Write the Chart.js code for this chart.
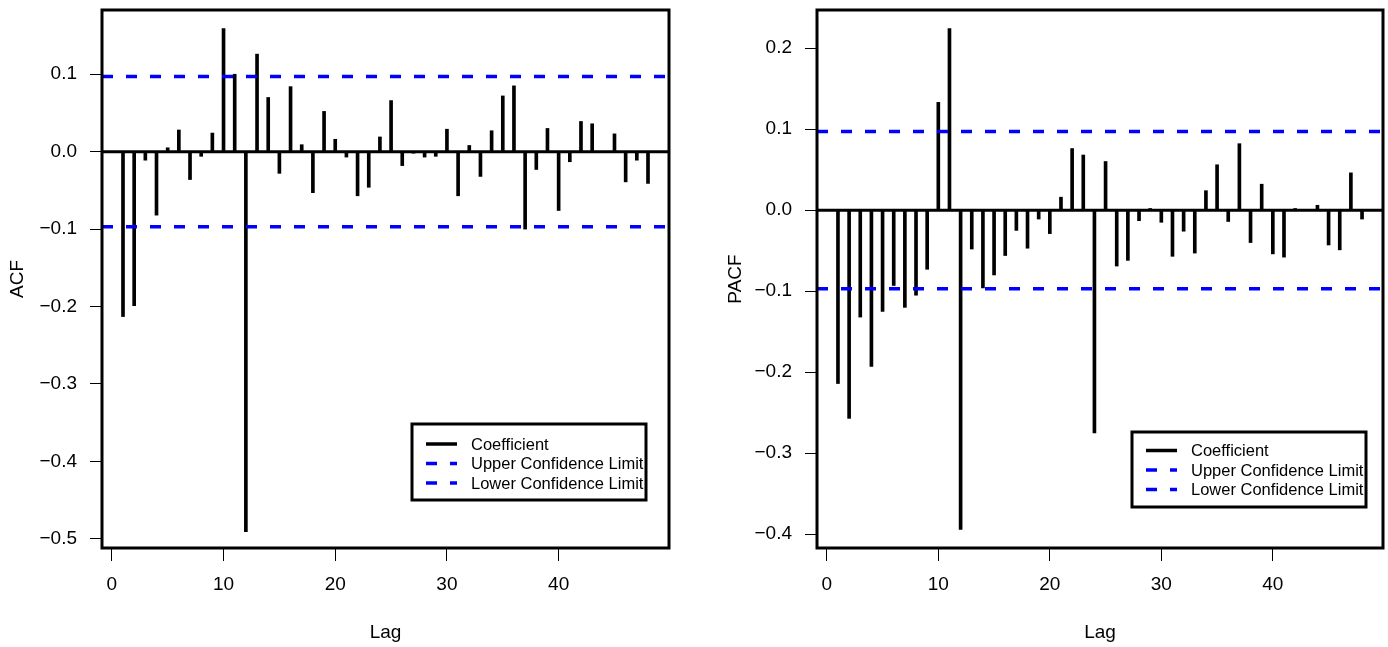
<!DOCTYPE html>
<html>
<head>
<meta charset="utf-8">
<title>ACF / PACF</title>
<script src="https://cdn.jsdelivr.net/npm/chart.js@4.4.1/dist/chart.umd.min.js"></script>
<style>
  body { margin: 0; background: #fff; }
  #wrap { position: relative; width: 1388px; height: 647px; }
  canvas { position: absolute; top: 0; }
  #acfChart { left: 0; }
  #pacfChart { left: 694px; }
</style>
</head>
<body>
<div id="wrap">
  <canvas id="acfChart" width="694" height="647"></canvas>
  <canvas id="pacfChart" width="694" height="647"></canvas>
</div>
<script>
// 데이터 (lag 1..48)
const lags = Array.from({ length: 48 }, (_, i) => i + 1);

const acfValues = [-0.213, -0.199, -0.011, -0.082, 0.005, 0.028, -0.036, -0.006, 0.024, 0.159,
  0.100, -0.491, 0.126, 0.070, -0.028, 0.084, 0.009, -0.053, 0.052, 0.016,
  -0.007, -0.057, -0.046, 0.019, 0.066, -0.018, -0.002, -0.007, -0.006, 0.029,
  -0.057, 0.008, -0.032, 0.027, 0.072, 0.085, -0.100, -0.023, 0.030, -0.076,
  -0.013, 0.039, 0.036, -0.001, 0.023, -0.039, -0.011, -0.041];

const pacfValues = [-0.214, -0.257, -0.132, -0.193, -0.125, -0.093, -0.120, -0.105, -0.073, 0.133,
  0.224, -0.394, -0.048, -0.096, -0.080, -0.056, -0.025, -0.047, -0.011, -0.029,
  0.016, 0.076, 0.068, -0.275, 0.060, -0.069, -0.062, -0.013, 0.002, -0.015,
  -0.057, -0.026, -0.053, 0.024, 0.056, -0.014, 0.082, -0.040, 0.032, -0.054,
  -0.058, 0.002, 0.001, 0.006, -0.043, -0.049, 0.046, -0.011];

const upperLimit = 0.097;
const lowerLimit = -0.097;

// 축 눈금
const xTicks = [0, 10, 20, 30, 40];
const acfYTicks = [-0.5, -0.4, -0.3, -0.2, -0.1, 0.0, 0.1];
const pacfYTicks = [-0.4, -0.3, -0.2, -0.1, 0.0, 0.1, 0.2];

const xMin = -0.88, xMax = 49.88;

Chart.defaults.font.family = "'Liberation Sans', Arial, sans-serif";
Chart.defaults.color = '#000';

// 플롯 테두리 + 범례 박스 그리기
const boxPlugin = {
  id: 'boxLegend',
  afterDraw(chart, args, opts) {
    const ctx = chart.ctx;
    const a = chart.chartArea;
    ctx.save();
    ctx.strokeStyle = '#000';
    ctx.lineWidth = 3;
    ctx.strokeRect(a.left, a.top, a.right - a.left, a.bottom - a.top);

    // legend
    ctx.fillStyle = '#fff';
    ctx.fillRect(opts.x, opts.y, opts.w, opts.h);
    ctx.strokeRect(opts.x, opts.y, opts.w, opts.h);
    ctx.font = "16.5px 'Liberation Sans', Arial, sans-serif";
    ctx.textBaseline = 'middle';
    ctx.textAlign = 'left';
    let row = 0;
    chart.data.datasets.forEach(ds => {
      if (!ds.label) return;
      const y = opts.y + opts.first + row * 19.5;
      ctx.beginPath();
      ctx.strokeStyle = ds.borderColor || ds.backgroundColor;
      ctx.lineWidth = 3.5;
      ctx.setLineDash(ds.borderDash || []);
      ctx.moveTo(opts.x + 14, y);
      ctx.lineTo(opts.x + 45, y);
      ctx.stroke();
      ctx.setLineDash([]);
      ctx.fillStyle = '#000';
      ctx.fillText(ds.label, opts.x + 59, y + 1);
      row++;
    });
    ctx.restore();
  }
};

function fmt(v) {
  return v.toFixed(1).replace('-', '\u2212');
}

function makeChart(id, values, yTicks, yMin, yMax, yTitle, yWidth, titlePad, padRight, legendBox) {
  const ctx = document.getElementById(id);
  const config = {
    type: 'bar',
    data: {
      datasets: [
        {
          label: 'Coefficient',
          data: lags.map((l, i) => ({ x: l, y: values[i] })),
          backgroundColor: '#000',
          borderColor: '#000',
          barThickness: 3,
          order: 2
        },
        {
          type: 'line',
          label: 'Upper Confidence Limit',
          data: [{ x: xMin, y: upperLimit }, { x: xMax, y: upperLimit }],
          borderColor: '#0000ff',
          borderWidth: 3.5,
          borderDash: [11, 13],
          pointRadius: 0,
          order: 0
        },
        {
          type: 'line',
          label: 'Lower Confidence Limit',
          data: [{ x: xMin, y: lowerLimit }, { x: xMax, y: lowerLimit }],
          borderColor: '#0000ff',
          borderWidth: 3.5,
          borderDash: [11, 13],
          pointRadius: 0,
          order: 0
        },
        {
          type: 'line',
          data: [{ x: xMin, y: 0 }, { x: xMax, y: 0 }],
          borderColor: '#000',
          borderWidth: 3,
          pointRadius: 0,
          order: 1
        }
      ]
    },
    options: {
      responsive: false,
      animation: false,
      layout: { padding: { top: 10, right: padRight, left: 0, bottom: 0 } },
      plugins: {
        legend: { display: false },
        tooltip: { enabled: false },
        boxLegend: legendBox
      },
      scales: {
        x: {
          type: 'linear',
          min: xMin,
          max: xMax,
          offset: false,
          grid: { offset: false, drawOnChartArea: false, tickLength: 13, color: '#000', lineWidth: 1 },
          border: { display: false },
          afterBuildTicks: s => { s.ticks = xTicks.map(v => ({ value: v })); },
          afterFit: s => { s.height = 99; s.paddingLeft = 0; s.paddingRight = 0; },
          ticks: { font: { size: 19 }, padding: 12, maxRotation: 0 },
          title: { display: true, text: 'Lag', font: { size: 19 }, padding: { top: 0, bottom: 3 } }
        },
        y: {
          type: 'linear',
          min: yMin,
          max: yMax,
          grid: { drawOnChartArea: false, tickLength: 12, color: '#000', lineWidth: 1 },
          border: { display: false },
          afterBuildTicks: s => { s.ticks = yTicks.map(v => ({ value: v })); },
          afterFit: s => { s.width = yWidth; s.paddingTop = 0; s.paddingBottom = 0; },
          ticks: { font: { size: 19 }, padding: 13, callback: v => fmt(v) },
          title: { display: true, text: yTitle, font: { size: 19 }, padding: { top: titlePad, bottom: 0 } }
        }
      }
    },
    plugins: [boxPlugin]
  };
  return new Chart(ctx, config);
}

let acfChart = makeChart('acfChart', acfValues, acfYTicks, -0.512, 0.183, 'ACF', 102, 6, 25,
  { x: 412, y: 424, w: 234, h: 76, first: 20 });
let pacfChart = makeChart('pacfChart', pacfValues, pacfYTicks, -0.417, 0.247, 'PACF', 123, 30, 5,
  { x: 438, y: 432, w: 234, h: 75, first: 18.5 });
</script>
</body>
</html>
